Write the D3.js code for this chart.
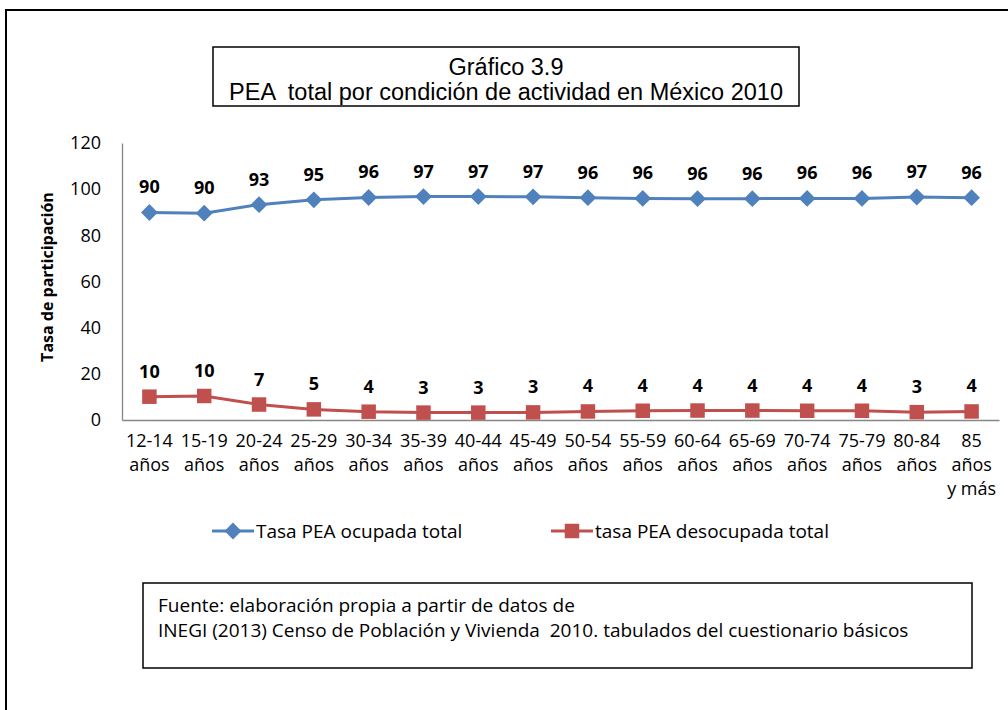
<!DOCTYPE html>
<html>
<head>
<meta charset="utf-8">
<script src="https://cdn.jsdelivr.net/npm/d3@7/dist/d3.min.js"></script>
<style>
  body { margin: 0; background: #fff; }
  svg { display: block; }
</style>
</head>
<body>
<div id="chart"></div>
<script>
// Chart data
var categories = ['12-14\naños', '15-19\naños', '20-24\naños', '25-29\naños', '30-34\naños',
      '35-39\naños', '40-44\naños', '45-49\naños', '50-54\naños', '55-59\naños', '60-64\naños',
      '65-69\naños', '70-74\naños', '75-79\naños', '80-84\naños', '85\naños\ny más']
var ocupada = [89.9, 89.6, 93.3, 95.4, 96.4, 96.8, 96.8, 96.7, 96.3, 96.0, 95.9, 95.9, 96.0, 96.0, 96.6, 96.3]
var desocupada = [10.1, 10.4, 6.7, 4.6, 3.6, 3.2, 3.2, 3.3, 3.7, 4.0, 4.1, 4.1, 4.0, 4.0, 3.4, 3.7]
var yTicks = [0, 20, 40, 60, 80, 100, 120]
var seriesNames = ['Tasa PEA ocupada total', 'tasa PEA desocupada total']
var titleLines = ['Gráfico 3.9', 'PEA  total por condición de actividad en México 2010']
var sourceLines = ['Fuente: elaboración propia a partir de datos de',
      'INEGI (2013) Censo de Población y Vivienda  2010. tabulados del cuestionario básicos']

var svgWidth = 1008
var svgHeight = 710
var plot = { left: 122, right: 999, top: 143, bottom: 420 }
var blue = '#4F81BD'
var red = '#C0504D'
var font = '"Open Sans", sans-serif'

var svg = d3.select('#chart')
      .append('svg')
      .attr('width', svgWidth)
      .attr('height', svgHeight)

// Outer frame (right and bottom edges fall outside the picture)
svg.append('rect')
      .attr('x', 6).attr('y', 10)
      .attr('width', 1100).attr('height', 800)
      .attr('fill', 'none').attr('stroke', '#000').attr('stroke-width', 2)

// Title box
svg.append('rect')
      .attr('x', 213).attr('y', 47)
      .attr('width', 586).attr('height', 59)
      .attr('fill', '#fff').attr('stroke', '#000').attr('stroke-width', 1.5)

svg.append('g').selectAll('text')
      .data(titleLines)
      .enter()
      .append('text')
      .attr('x', 506)
      .attr('y', (d, i) => 75 + i * 25)
      .attr('text-anchor', 'middle')
      .style('white-space', 'pre')
      .style('font-family', '"Liberation Sans", Arial, sans-serif')
      .style('font-size', '23.5px')
      .text(d => d)

// Scales
var x = d3.scaleBand()
      .domain(categories)
      .range([plot.left, plot.right])
      .padding(0)

var y = d3.scaleLinear()
      .domain([0, 120])
      .range([plot.bottom, plot.top])

var cx = (d, i) => x(categories[i]) + x.bandwidth() / 2

// Axes
var yAxis = svg.append('g')
      .attr('transform', `translate(${plot.left}, 0)`)
      .call(d3.axisLeft(y).tickValues(yTicks).tickSize(0).tickPadding(21))
yAxis.select('.domain').attr('stroke', '#868686').attr('stroke-width', 1.3)
yAxis.selectAll('text')
      .style('font-family', font)
      .style('font-size', '18px')
      .attr('fill', '#000')

var xAxis = svg.append('g')
      .attr('transform', `translate(0, ${plot.bottom})`)
      .call(d3.axisBottom(x).tickSize(0).tickFormat(''))
xAxis.select('.domain').attr('stroke', '#868686').attr('stroke-width', 1.3)
xAxis.selectAll('.tick text').remove()
xAxis.selectAll('.tick')
      .append('text')
      .attr('text-anchor', 'middle')
      .attr('fill', '#000')
      .style('font-family', font)
      .style('font-size', '18px')
      .selectAll('tspan')
      .data(d => d.split('\n'))
      .enter()
      .append('tspan')
      .attr('x', 0)
      .attr('y', (d, i) => 27 + i * 24)
      .text(d => d)

// Y axis title
svg.append('text')
      .attr('transform', `translate(53, 277) rotate(-90)`)
      .attr('text-anchor', 'middle')
      .style('font-family', font)
      .style('font-size', '16px')
      .style('font-weight', 'bold')
      .text('Tasa de participación')

// Lines
var line = d3.line()
      .x(cx)
      .y(d => y(d))

var series = [
      { values: ocupada, color: blue, symbol: d3.symbolDiamond2, size: 180 },
      { values: desocupada, color: red, symbol: d3.symbolSquare, size: 210 }
]

series.forEach(s => {
      svg.append('path')
            .datum(s.values)
            .attr('d', line)
            .attr('fill', 'none')
            .attr('stroke', s.color)
            .attr('stroke-width', 3)

      svg.append('g').selectAll('path')
            .data(s.values)
            .enter()
            .append('path')
            .attr('transform', (d, i) => `translate(${cx(d, i)}, ${y(d)})`)
            .attr('d', d3.symbol().type(s.symbol).size(s.size))
            .attr('fill', s.color)

      svg.append('g').selectAll('text')
            .data(s.values)
            .enter()
            .append('text')
            .attr('x', cx)
            .attr('y', d => y(d) - 19)
            .attr('text-anchor', 'middle')
            .style('font-family', font)
            .style('font-size', '18px')
            .style('font-weight', 'bold')
            .text(d => Math.round(d))
})

// Legend
var legend = svg.append('g').attr('transform', 'translate(0, 531)')
var legendX = [212, 551]
series.forEach((s, i) => {
      var g = legend.append('g').attr('transform', `translate(${legendX[i]}, 0)`)
      g.append('line')
            .attr('x1', 0).attr('x2', 42)
            .attr('stroke', s.color).attr('stroke-width', 3)
      g.append('path')
            .attr('transform', 'translate(21, 0)')
            .attr('d', d3.symbol().type(s.symbol).size(s.size))
            .attr('fill', s.color)
      g.append('text')
            .attr('x', 44)
            .attr('dy', '0.35em')
            .style('font-family', font)
            .style('font-size', '19px')
            .text(seriesNames[i])
})

// Source box
svg.append('rect')
      .attr('x', 143).attr('y', 583)
      .attr('width', 829).attr('height', 85)
      .attr('fill', '#fff').attr('stroke', '#000').attr('stroke-width', 1.5)

svg.append('g').selectAll('text')
      .data(sourceLines)
      .enter()
      .append('text')
      .attr('x', 158)
      .attr('y', (d, i) => 612 + i * 25)
      .style('white-space', 'pre')
      .style('font-family', font)
      .style('font-size', '19px')
      .text(d => d)
</script>
</body>
</html>
